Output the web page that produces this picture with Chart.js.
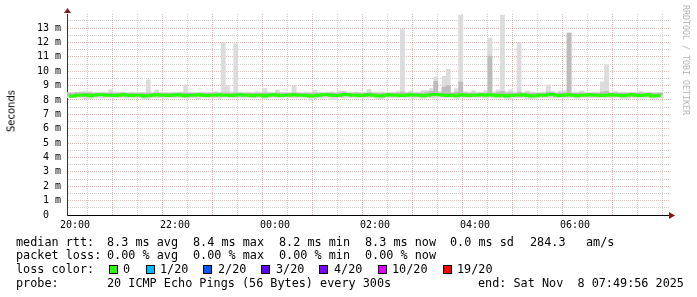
<!DOCTYPE html>
<html>
<head>
<meta charset="utf-8">
<script src="https://cdn.jsdelivr.net/npm/chart.js@4.4.1/dist/chart.umd.min.js"></script>
<style>
  html, body { margin: 0; padding: 0; background: #fff; }
  #wrap { position: relative; width: 697px; height: 297px; overflow: hidden; }
  #graph { position: absolute; left: 0; top: 0; }
  .txt { position: absolute; font-family: "DejaVu Sans Mono", monospace; font-size: 11.8px; line-height: 14px; white-space: pre; color: #000; }
  .box { position: absolute; width: 7px; height: 7px; border: 1px solid #000; }
  #ytitle { position: absolute; left: 11px; top: 111px; font-family: "DejaVu Sans", sans-serif; font-size: 10px;
    transform: translate(-50%, -50%) rotate(-90deg); white-space: nowrap; color: #000; }
  #stamp { position: absolute; left: 686px; top: 60px; font-family: "DejaVu Sans Mono", monospace; font-size: 8.3px;
    transform: translate(-50%, -50%) rotate(90deg); white-space: nowrap; color: #b4b4b4; }
</style>
</head>
<body>
<div id="wrap">
  <canvas id="graph" width="697" height="297"></canvas>
  <div id="ytitle">Seconds</div>
  <div id="stamp">RRDTOOL / TOBI OETIKER</div>
  <div id="legend"></div>
</div>
<script>
// 5 minute steps, minutes relative to 20:00 (first step starts 19:50:24)
const startMinute = -9.6;
const stepMinutes = 5;

// median rtt per step (ms)
const median = [
  8.26, 8.28, 8.33, 8.33, 8.35, 8.30, 8.33, 8.36, 8.36, 8.33, 8.33, 8.31,
  8.33, 8.36, 8.33, 8.31, 8.33, 8.33, 8.28, 8.30, 8.33, 8.36, 8.33, 8.33,
  8.31, 8.33, 8.36, 8.33, 8.30, 8.33, 8.33, 8.36, 8.33, 8.31, 8.33, 8.33,
  8.36, 8.33, 8.33, 8.31, 8.33, 8.36, 8.33, 8.33, 8.30, 8.33, 8.33, 8.28,
  8.33, 8.36, 8.33, 8.31, 8.33, 8.33, 8.36, 8.33, 8.33, 8.31, 8.28, 8.30,
  8.33, 8.36, 8.36, 8.33, 8.31, 8.33, 8.38, 8.36, 8.33, 8.33, 8.31, 8.33,
  8.36, 8.33, 8.30, 8.28, 8.33, 8.36, 8.33, 8.33, 8.31, 8.33, 8.36, 8.33,
  8.33, 8.30, 8.33, 8.36, 8.38, 8.36, 8.33, 8.31, 8.33, 8.30, 8.36, 8.33,
  8.31, 8.33, 8.33, 8.36, 8.33, 8.36, 8.33, 8.30, 8.33, 8.28, 8.31, 8.33,
  8.33, 8.36, 8.31, 8.28, 8.30, 8.33, 8.33, 8.36, 8.38, 8.33, 8.31, 8.33,
  8.36, 8.33, 8.30, 8.33, 8.33, 8.36, 8.33, 8.33, 8.31, 8.33, 8.36, 8.33,
  8.33, 8.30, 8.33, 8.36, 8.33, 8.31, 8.33, 8.36, 8.28, 8.30, 8.33
];

// smoke: lowest and highest ping per step (ms)
const smokeLow = [
  8.15, 8.15, 8.15, 8.13, 8.08, 8.05, 8.15, 8.15, 8.13, 8.15, 8.15, 8.15,
  8.15, 8.15, 8.13, 8.15, 8.15, 8.15, 8.05, 8.1, 8.15, 8.15, 8.15, 8.13,
  8.15, 8.15, 8.15, 8.15, 8.15, 8.13, 8.15, 8.08, 8.15, 8.15, 8.15, 8.15,
  8.1, 8.15, 8.15, 8.15, 8.15, 8.15, 8.13, 8.15, 8.15, 8.15, 8.15, 8.1,
  8.15, 8.15, 8.15, 8.13, 8.15, 8.15, 8.15, 8.15, 8.15, 8.15, 8.02, 8.08,
  8.15, 8.15, 8.15, 8.02, 8.02, 8.15, 8.15, 8.15, 8.15, 8.13, 8.15, 8.15,
  8.15, 8.15, 8.1, 8.08, 8.15, 8.15, 8.15, 8.15, 8.15, 8.15, 8.15, 8.13,
  8.15, 8.1, 8.15, 8.15, 8.15, 8.15, 8.15, 8.15, 8.15, 8.1, 8.15, 8.15,
  8.15, 8.15, 8.15, 8.15, 8.15, 8.15, 8.15, 8.13, 8.15, 8.08, 8.1, 8.15,
  8.15, 8.15, 8.1, 8.08, 8.1, 8.15, 8.15, 8.15, 8.15, 8.15, 8.15, 8.15,
  8.15, 8.15, 8.1, 8.15, 8.15, 8.15, 8.15, 8.15, 8.15, 8.15, 8.15, 8.15,
  8.15, 8.1, 8.08, 8.15, 8.15, 8.13, 8.15, 8.15, 8.1, 8.1, 8.15
];
const smokeHigh = [
  8.52, 8.52, 8.55, 8.58, 8.58, 8.58, 8.52, 8.52, 8.55, 8.52, 8.7, 8.55,
  8.55, 8.55, 8.52, 8.55, 8.52, 8.52, 8.52, 9.4, 8.55, 8.7, 8.55, 8.52,
  8.52, 8.55, 8.52, 8.55, 9.05, 8.55, 8.52, 8.52, 8.55, 8.52, 8.52, 8.58,
  8.55, 12.0, 9.0, 8.58, 11.9, 8.55, 8.52, 8.55, 8.52, 8.58, 8.55, 8.8,
  8.55, 8.52, 8.7, 8.55, 8.52, 8.52, 9.0, 8.55, 8.52, 8.55, 8.52, 8.7,
  8.55, 8.52, 8.55, 8.55, 8.52, 8.62, 8.6, 8.55, 8.52, 8.55, 8.52, 8.55,
  8.75, 8.55, 8.52, 8.55, 8.52, 8.52, 8.55, 8.58, 12.9, 8.55, 8.62, 8.55,
  8.55, 8.65, 8.65, 8.8, 9.6, 8.58, 9.65, 10.15, 8.55, 8.8, 13.9, 8.58,
  8.55, 8.65, 8.55, 8.55, 8.65, 12.3, 8.55, 8.7, 13.9, 8.58, 8.7, 8.55,
  12.0, 8.55, 8.62, 8.55, 8.52, 8.55, 8.55, 9.05, 8.62, 8.55, 8.62, 8.65,
  12.65, 8.55, 8.55, 8.62, 8.55, 8.52, 8.55, 8.55, 9.25, 10.45, 8.55, 8.58,
  8.55, 8.55, 8.52, 8.55, 8.55, 8.58, 8.55, 8.55, 8.52, 8.52, 8.52
];
// denser smoke: upper edge of the inner pings (ms)
const smokeMid = [
  8.47, 8.47, 8.5, 8.5, 8.5, 8.5, 8.47, 8.47, 8.47, 8.47, 8.5, 8.47,
  8.47, 8.5, 8.47, 8.47, 8.47, 8.47, 8.47, 8.5, 8.47, 8.5, 8.47, 8.47,
  8.47, 8.47, 8.47, 8.5, 8.5, 8.47, 8.47, 8.47, 8.47, 8.47, 8.47, 8.5,
  8.47, 8.5, 8.5, 8.47, 8.5, 8.47, 8.47, 8.47, 8.47, 8.47, 8.47, 8.5,
  8.47, 8.47, 8.5, 8.47, 8.47, 8.47, 8.5, 8.47, 8.47, 8.47, 8.47, 8.5,
  8.47, 8.47, 8.47, 8.5, 8.47, 8.5, 8.55, 8.47, 8.47, 8.5, 8.47, 8.47,
  8.5, 8.47, 8.47, 8.47, 8.47, 8.47, 8.47, 8.5, 8.55, 8.47, 8.5, 8.47,
  8.47, 8.5, 8.55, 8.6, 9.3, 8.5, 8.9, 9.0, 8.47, 8.55, 9.25, 8.5,
  8.47, 8.5, 8.47, 8.47, 8.5, 11.05, 8.47, 8.55, 8.6, 8.5, 8.5, 8.47,
  8.55, 8.47, 8.5, 8.47, 8.47, 8.47, 8.47, 8.55, 8.5, 8.47, 8.5, 8.5,
  12.65, 8.47, 8.47, 8.5, 8.47, 8.47, 8.47, 8.47, 8.55, 8.6, 8.47, 8.5,
  8.47, 8.47, 8.47, 8.47, 8.47, 8.5, 8.47, 8.47, 8.47, 8.47, 8.47
];

const yMax = 13.98;
const xMax = 712.8;

// legend rows: [x, text]
const rttRow = [[16, "median rtt:"], [107, "8.3 ms avg"], [193, "8.4 ms max"], [279, "8.2 ms min"],
  [365, "8.3 ms now"], [450, "0.0 ms sd"], [530, "284.3"], [586, "am/s"]];
const lossRow = [[16, "packet loss:"], [107, "0.00 % avg"], [193, "0.00 % max"], [279, "0.00 % min"], [365, "0.00 % now"]];
const probeRow = [[16, "probe:"], [107, "20 ICMP Echo Pings (56 Bytes) every 300s"], [478, "end: Sat Nov  8 07:49:56 2025"]];
const lossLabels = ["0", "1/20", "2/20", "3/20", "4/20", "10/20", "19/20"];
const lossColors = ["#26ff00", "#00b8ff", "#0059ff", "#5e00ff", "#7e00ff", "#dd00ff", "#ff0000"];
const lossBoxX = [109, 146, 203, 261, 319, 378, 443];
const lossTextX = [123, 160, 218, 276, 334, 392, 457];

const slotX = median.map((_, i) => startMinute + stepMinutes * (i + 0.5));

function addText(x, y, text) {
  const el = document.createElement("div");
  el.className = "txt";
  el.style.left = x + "px";
  el.style.top = y + "px";
  el.textContent = text;
  document.getElementById("legend").appendChild(el);
}

rttRow.forEach(([x, t]) => addText(x, 235, t));
lossRow.forEach(([x, t]) => addText(x, 248, t));
addText(16, 262, "loss color:");
lossLabels.forEach((label, i) => {
  const box = document.createElement("div");
  box.className = "box";
  box.style.left = lossBoxX[i] + "px";
  box.style.top = "265px";
  box.style.background = lossColors[i];
  document.getElementById("legend").appendChild(box);
  addText(lossTextX[i], 262, label);
});
probeRow.forEach(([x, t]) => addText(x, 276, t));

// arrow heads at the ends of both axes
const axisArrows = {
  id: "axisArrows",
  afterDraw(chart) {
    const { ctx, chartArea: a } = chart;
    ctx.save();
    ctx.fillStyle = "#7f1d1d";
    ctx.beginPath();
    ctx.moveTo(a.left - 3, a.top - 1);
    ctx.lineTo(a.left + 4, a.top - 1);
    ctx.lineTo(a.left + 0.5, a.top - 6);
    ctx.fill();
    ctx.beginPath();
    ctx.moveTo(a.right, a.bottom - 3);
    ctx.lineTo(a.right, a.bottom + 4);
    ctx.lineTo(a.right + 6, a.bottom + 0.5);
    ctx.fill();
    ctx.restore();
  },
};

const majorGrid = "rgba(222, 48, 48, 0.36)";
const minorGrid = "rgba(140, 140, 140, 0.4)";

new Chart(document.getElementById("graph"), {
  type: "bar",
  data: {
    datasets: [
      {
        type: "line",
        data: median.map((v, i) => ({ x: slotX[i], y: v })),
        borderColor: "#26ff00",
        borderWidth: 3,
        pointRadius: 0,
        stepped: "middle",
        order: 0,
      },
      {
        data: smokeMid.map((v, i) => ({ x: slotX[i], y: [median[i], v] })),
        backgroundColor: "#bcbcbc",
        order: 1,
      },
      {
        data: smokeHigh.map((v, i) => ({ x: slotX[i], y: [smokeLow[i], v] })),
        backgroundColor: "#dcdcdc",
        order: 2,
      },
    ],
  },
  options: {
    responsive: false,
    animation: false,
    devicePixelRatio: 1,
    layout: { padding: { top: 14, right: 28, left: 0, bottom: 0 } },
    plugins: { legend: { display: false }, tooltip: { enabled: false } },
    datasets: {
      bar: { barPercentage: 1, categoryPercentage: 1, grouped: false },
    },
    scales: {
      x: {
        type: "linear",
        offset: false,
        min: startMinute,
        max: xMax,
        afterFit(scale) { scale.height = 82; },
        border: { color: "#000", width: 1, dash: [1, 1] },
        grid: {
          drawTicks: false,
          color: (c) => (c.tick && c.tick.value % 60 === 0 ? majorGrid : minorGrid),
        },
        ticks: {
          stepSize: 30,
          includeBounds: false,
          autoSkip: false,
          maxRotation: 0,
          padding: 4,
          color: "#000",
          font: { family: "DejaVu Sans Mono", size: 10 },
          callback: (v) => {
            if (v % 120 !== 0) return "";
            const h = (20 + v / 60) % 24;
            return String(h).padStart(2, "0") + ":00";
          },
        },
      },
      y: {
        min: 0,
        max: yMax,
        afterFit(scale) { scale.width = 67; },
        border: { color: "#333", width: 1, dash: [1, 1] },
        grid: {
          drawTicks: false,
          color: (c) => (c.tick && Number.isInteger(c.tick.value) ? majorGrid : minorGrid),
        },
        ticks: {
          stepSize: 0.5,
          includeBounds: false,
          autoSkip: false,
          padding: 6,
          color: "#000",
          font: { family: "DejaVu Sans Mono", size: 10 },
          callback: (v) => {
            if (!Number.isInteger(v)) return "";
            return v === 0 ? "0  " : v + " m";
          },
        },
      },
    },
  },
  plugins: [axisArrows],
});
</script>
</body>
</html>
